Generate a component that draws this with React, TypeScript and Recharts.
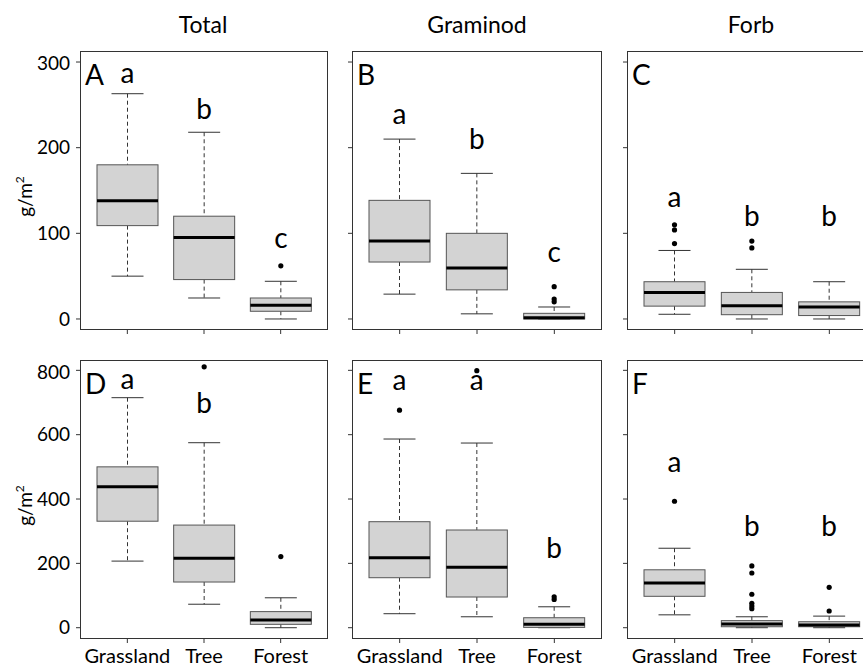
import { ComposedChart, Bar, XAxis, YAxis } from "recharts";

const groups = ["Grassland", "Tree", "Forest"];

// A: total, aboveground (row 1)
const aLow = [50, 24.5, 0];
const aQ1 = [109, 46, 9];
const aMed = [138, 95, 16];
const aQ3 = [180, 120, 24.5];
const aHigh = [263, 218, 44];
const aOut = [[], [], [62]];
const aLetter = ["a", "b", "c"];
const aLetterAt = [275, 234, 82.5];

// B: graminoid
const bLow = [29, 6, 0];
const bQ1 = [66.5, 34, 0];
const bMed = [91, 59.5, 1.5];
const bQ3 = [138.5, 100, 6.6];
const bHigh = [210, 170, 14];
const bOut = [[], [], [37.7, 23.3, 20]];
const bLetter = ["a", "b", "c"];
const bLetterAt = [228, 198, 67];

// C: forb
const cLow = [5.5, 0, 0];
const cQ1 = [15, 5, 4];
const cMed = [31, 15.5, 14];
const cQ3 = [43.5, 31, 20];
const cHigh = [80, 58, 43.5];
const cOut = [[110, 104, 88], [91, 83], []];
const cLetter = ["a", "b", "b"];
const cLetterAt = [131, 108.5, 108.5];

// D: total (row 2)
const dLow = [207, 73, 0];
const dQ1 = [331, 142, 10.5];
const dMed = [438, 216, 24];
const dQ3 = [500, 319, 50];
const dHigh = [715, 575, 93];
const dOut = [[], [811], [221]];
const dLetter = ["a", "b", ""];
const dLetterAt = [741, 666, 0];

// E: graminoid (row 2)
const eLow = [43.5, 34, 0];
const eQ1 = [155.4, 95.4, 1];
const eMed = [217.6, 187.7, 10.5];
const eQ3 = [329.5, 303.7, 31];
const eHigh = [586.5, 574, 65];
const eOut = [[676], [799], [96, 88]];
const eLetter = ["a", "a", "b"];
const eLetterAt = [739, 739, 216];

// F: forb (row 2)
const fLow = [40, 0, 0];
const fQ1 = [97.6, 3, 3];
const fMed = [139, 11.5, 8.4];
const fQ3 = [180, 22, 18.6];
const fHigh = [247, 34, 36];
const fOut = [[393], [192, 170, 104, 76, 67.5, 59], [125.6, 52]];
const fLetter = ["a", "b", "b"];
const fLetterAt = [483, 285, 285];

const topTicks = [0, 100, 200, 300];
const bottomTicks = [0, 200, 400, 600, 800];
const colTitles = ["Total", "Graminod", "Forb"];

function rowsOf(low, q1, med, q3, high, out, letter, letterAt) {
  return groups.map((name, i) => ({
    name,
    range: [low[i], high[i]],
    q1: q1[i],
    med: med[i],
    q3: q3[i],
    out: out[i],
    letter: letter[i],
    letterAt: letterAt[i],
  }));
}

function BoxShape(props: any) {
  const { x, y, width, height, payload } = props;
  const [lo, hi] = payload.range;
  const py = (v: number) => y + (height * (hi - v)) / (hi - lo);
  const cx = x + width / 2;
  const cap = 16;
  return (
    <g>
      <line x1={cx} x2={cx} y1={py(hi)} y2={py(payload.q3)} stroke="#333" strokeDasharray="4 3" />
      <line x1={cx} x2={cx} y1={py(payload.q1)} y2={py(lo)} stroke="#333" strokeDasharray="4 3" />
      <line x1={cx - cap} x2={cx + cap} y1={py(hi)} y2={py(hi)} stroke="#333" />
      <line x1={cx - cap} x2={cx + cap} y1={py(lo)} y2={py(lo)} stroke="#333" />
      <rect
        x={x}
        y={py(payload.q3)}
        width={width}
        height={Math.max(py(payload.q1) - py(payload.q3), 0.5)}
        fill="#d3d3d3"
        stroke="#555"
      />
      <line x1={x} x2={x + width} y1={py(payload.med)} y2={py(payload.med)} stroke="#000" strokeWidth={3} />
      {payload.out.map((v: number, k: number) => (
        <circle key={k} cx={cx} cy={py(v)} r={2.6} fill="#000" />
      ))}
      {payload.letter && (
        <text x={cx} y={py(payload.letterAt)} textAnchor="middle" fontSize={28} fill="#000">
          {payload.letter}
        </text>
      )}
    </g>
  );
}

const renderYLabel = (props: any) => {
  const { viewBox } = props;
  const lx = viewBox.x + 32;
  const ly = viewBox.y + viewBox.height / 2 + 6;
  return (
    <text x={lx} y={ly} transform={`rotate(-90, ${lx}, ${ly})`} textAnchor="middle" fontSize={19} fill="#000">
      g/m
      <tspan fontSize={12} dy={-8}>
        2
      </tspan>
    </text>
  );
};

function Panel({ rows, left, top, width, height, domain, ticks, yLabels, xLabels, tag }) {
  const axisW = yLabels ? left : 25;
  return (
    <>
      <div style={{ position: "absolute", left: left - axisW, top }}>
        <ComposedChart
          width={axisW + width}
          height={height + 40}
          data={rows}
          margin={{ top: 0, right: 0, bottom: 0, left: 0 }}
        >
          <XAxis
            dataKey="name"
            type="category"
            height={40}
            padding={{ left: 8, right: 8 }}
            axisLine={false}
            stroke="#333"
            tickSize={5}
            tickMargin={6}
            interval={0}
            tick={{ fontSize: 20, fill: "#000" }}
            tickFormatter={xLabels ? undefined : () => ""}
          />
          <YAxis
            type="number"
            width={axisW}
            domain={domain}
            ticks={ticks}
            allowDataOverflow
            axisLine={false}
            stroke="#333"
            tickSize={5}
            tickMargin={6}
            tick={{ fontSize: 19, fill: "#000" }}
            tickFormatter={yLabels ? undefined : () => ""}
            label={yLabels ? renderYLabel : undefined}
          />
          <Bar dataKey="range" barSize={61} shape={BoxShape} isAnimationActive={false} />
        </ComposedChart>
      </div>
      <div
        style={{
          position: "absolute",
          left: left - 1,
          top: top - 1,
          width: width + 2,
          height: height + 2,
          boxSizing: "border-box",
          border: "1.6px solid #333",
          pointerEvents: "none",
        }}
      />
      <div
        style={{
          position: "absolute",
          left: left + 4,
          top: top + 8,
          fontSize: 28,
          lineHeight: 1,
          color: "#000",
        }}
      >
        {tag}
      </div>
    </>
  );
}

const colLeft = [81, 353, 628];
const colWidth = [246, 248, 248];
const colCenter = [203, 477, 751];
const rowTop = [52, 361];
const plotH = 277;

export default function App() {
  const panels = [
    { rows: rowsOf(aLow, aQ1, aMed, aQ3, aHigh, aOut, aLetter, aLetterAt), tag: "A" },
    { rows: rowsOf(bLow, bQ1, bMed, bQ3, bHigh, bOut, bLetter, bLetterAt), tag: "B" },
    { rows: rowsOf(cLow, cQ1, cMed, cQ3, cHigh, cOut, cLetter, cLetterAt), tag: "C" },
    { rows: rowsOf(dLow, dQ1, dMed, dQ3, dHigh, dOut, dLetter, dLetterAt), tag: "D" },
    { rows: rowsOf(eLow, eQ1, eMed, eQ3, eHigh, eOut, eLetter, eLetterAt), tag: "E" },
    { rows: rowsOf(fLow, fQ1, fMed, fQ3, fHigh, fOut, fLetter, fLetterAt), tag: "F" },
  ];
  return (
    <div
      style={{
        position: "absolute",
        left: 0,
        top: 0,
        width: 863,
        height: 666,
        overflow: "hidden",
        background: "#fff",
        fontFamily: "Lato, 'Open Sans', sans-serif",
      }}
    >
      {colTitles.map((t, i) => (
        <div
          key={t}
          style={{
            position: "absolute",
            left: colCenter[i],
            top: 13,
            transform: "translateX(-50%)",
            fontSize: 23,
            lineHeight: 1,
            color: "#000",
            whiteSpace: "nowrap",
          }}
        >
          {t}
        </div>
      ))}
      {panels.map((p, k) => {
        const r = Math.floor(k / 3);
        const c = k % 3;
        return (
          <Panel
            key={p.tag}
            rows={p.rows}
            left={colLeft[c]}
            top={rowTop[r]}
            width={colWidth[c]}
            height={plotH}
            domain={r === 0 ? [-11.7, 311.7] : [-32, 829]}
            ticks={r === 0 ? topTicks : bottomTicks}
            yLabels={c === 0}
            xLabels={r === 1}
            tag={p.tag}
          />
        );
      })}
    </div>
  );
}
